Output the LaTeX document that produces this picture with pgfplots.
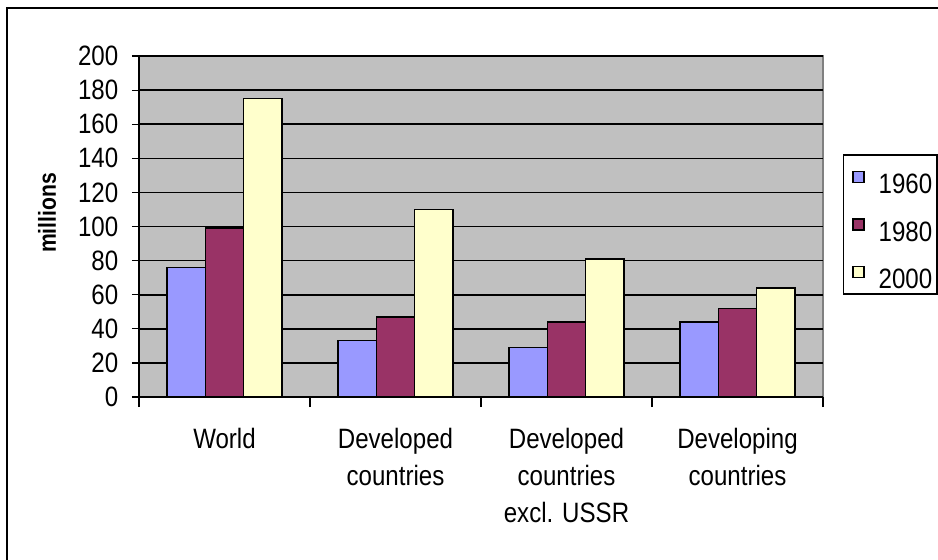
\documentclass[border=0pt]{standalone}
\usepackage{fontspec}
\setmainfont{Liberation Sans}[FakeStretch=0.86]
\usepackage{pgfplots}
\pgfplotsset{compat=1.18}
\definecolor{c1960}{HTML}{9999FF}
\definecolor{c1980}{HTML}{993366}
\definecolor{c2000}{HTML}{FFFFCC}
\definecolor{plotbg}{HTML}{C0C0C0}
\definecolor{edge}{HTML}{808080}

\begin{document}
\fontsize{14pt}{18.5pt}\selectfont
\begin{tikzpicture}
\useasboundingbox (0,0) rectangle (469pt,279.5pt);
% chart frame
\draw[line width=1.25pt] (3.5pt,-2pt) -- (3.5pt,275.5pt) -- (472pt,275.5pt);
\begin{axis}[
  at={(69.5pt,81pt)}, anchor=south west,
  width=342pt, height=170.5pt, scale only axis,
  xmin=-0.5, xmax=3.5, ymin=0, ymax=200,
  ytick={0,20,...,200},
  xtick={0,1,2,3},
  xticklabels={World, {Developed\\countries}, {Developed\\countries\\excl. USSR}, {Developing\\countries}},
  xticklabel style={align=center, anchor=north, yshift=-7pt},
  yticklabel style={xshift=-2pt},
  minor xtick={-0.5,0.5,1.5,2.5,3.5},
  every major x tick/.append style={draw=none},
  major tick length=3.5pt, minor tick length=5pt,
  tick align=outside,
  tick style={black, line width=0.6pt},
  ymajorgrids, grid style={black, line width=0.8pt},
  axis x line*=bottom, axis y line*=left,
  axis line style={black, line width=0.7pt, -},
  axis background/.style={fill=plotbg, draw=edge, line width=0.8pt},
  /pgf/number format/assume math mode=true,
  ylabel={\fontsize{12.3pt}{14pt}\selectfont\bfseries millions},
  ylabel style={at={(axis description cs:-0.1345,0.54)}, anchor=center},
  ybar=0pt, bar width=0.225,
  legend image code/.code={\path (0pt,0pt); \draw[#1] (2pt,-2.75pt) rectangle (7.5pt,2.75pt);},
  legend cell align=left,
  legend style={at={(1.029,0.7126)}, anchor=north west, draw=black, line width=0.8pt,
    fill=white, inner xsep=2.25pt, inner ysep=0.5pt, row sep=2.75pt,
    nodes={inner xsep=0pt, inner ysep=2pt, text height=17pt, text depth=0pt},
    /tikz/every odd column/.append style={column sep=7pt}},
]
\addplot[fill=c1960, draw=black, line width=0.75pt, bar shift=-0.225]
  coordinates {(0,76) (1,33) (2,29) (3,44)};
\addplot[fill=c1980, draw=black, line width=0.75pt, bar shift=0]
  coordinates {(0,99) (1,47) (2,44) (3,52)};
\addplot[fill=c2000, draw=black, line width=0.75pt, bar shift=0.225]
  coordinates {(0,175) (1,110) (2,81) (3,64)};
\legend{1960,1980,2000}
\end{axis}
\end{tikzpicture}
\end{document}
